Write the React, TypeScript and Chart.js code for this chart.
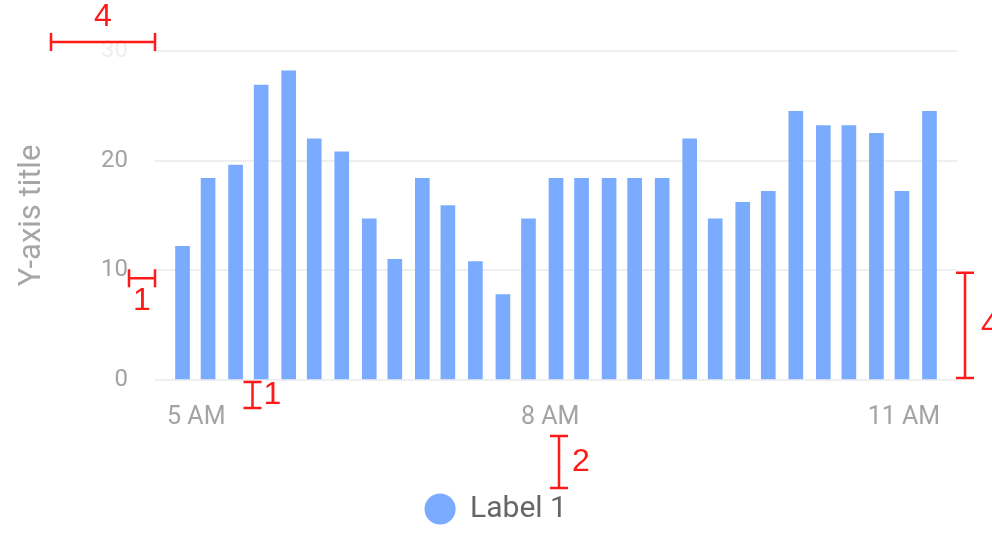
import React, { useEffect, useRef } from "react";
import { Chart, registerables } from "chart.js";

Chart.register(...registerables);

// Bar times, in minutes after midnight
const barTimes = [293, 306, 320, 333, 347, 360, 374, 388, 401, 415, 428, 442, 456, 469, 483, 496, 510, 523, 537, 551, 564, 578, 591, 605, 619, 632, 646, 659, 673];
const barValues = [12.2, 18.4, 19.6, 26.9, 28.2, 22.0, 20.8, 14.7, 11.0, 18.4, 15.9, 10.8, 7.8, 14.7, 18.4, 18.4, 18.4, 18.4, 18.4, 22.0, 14.7, 16.2, 17.2, 24.5, 23.2, 23.2, 22.5, 17.2, 24.5];
const xTickMinutes = [300, 480, 660];
const xTickLabels = ["5 AM", "8 AM", "11 AM"];
const yTickValues = [0, 10, 20, 30];
const seriesLabel = "Label 1";
const yAxisTitle = "Y-axis title";

const UNIT = 26;
const RED = "#ff1a1a";

function hBracket(ctx: CanvasRenderingContext2D, x1: number, x2: number, y: number) {
  ctx.beginPath();
  ctx.moveTo(x1, y);
  ctx.lineTo(x2, y);
  ctx.moveTo(x1, y - 9);
  ctx.lineTo(x1, y + 9);
  ctx.moveTo(x2, y - 9);
  ctx.lineTo(x2, y + 9);
  ctx.stroke();
}

function vBracket(ctx: CanvasRenderingContext2D, x: number, y1: number, y2: number) {
  ctx.beginPath();
  ctx.moveTo(x, y1);
  ctx.lineTo(x, y2);
  ctx.moveTo(x - 9, y1);
  ctx.lineTo(x + 9, y1);
  ctx.moveTo(x - 9, y2);
  ctx.lineTo(x + 9, y2);
  ctx.stroke();
}

const specMarks = {
  id: "specMarks",
  afterDraw(chart: any) {
    const { ctx, chartArea: ca, scales } = chart;
    const y = scales.y;
    ctx.save();
    ctx.strokeStyle = RED;
    ctx.fillStyle = RED;
    ctx.lineWidth = 2.5;
    ctx.font = '32px "Liberation Sans", Arial, sans-serif';
    ctx.textAlign = "center";
    ctx.textBaseline = "middle";

    // top: 4 units left of the plot
    const yTop = y.getPixelForValue(30) - 9;
    hBracket(ctx, ca.left - 4 * UNIT, ca.left, yTop);
    ctx.fillText("4", ca.left - 2 * UNIT, yTop - 25);

    // left: 1 unit between tick labels and plot
    const y10 = y.getPixelForValue(10) + 8;
    hBracket(ctx, ca.left - UNIT, ca.left, y10);
    ctx.fillText("1", ca.left - UNIT / 2, y10 + 23);

    // bottom: 1 unit under the axis
    const bx = ca.left + 3.75 * UNIT;
    vBracket(ctx, bx, ca.bottom + 2, ca.bottom + 2 + UNIT);
    ctx.fillText("1", bx + 20, ca.bottom + 2 + UNIT / 2);

    // between labels and legend: 2 units
    const mx = (ca.left + ca.right) / 2 + 3;
    const my = ca.bottom + 56;
    vBracket(ctx, mx, my, my + 2 * UNIT);
    ctx.fillText("2", mx + 22, my + UNIT);

    // right: 4 units high
    const rx = ca.right + 8;
    vBracket(ctx, rx, y.getPixelForValue(10) + 2.5, y.getPixelForValue(0) - 2);
    ctx.textAlign = "left";
    ctx.fillText("4", rx + 16, (y.getPixelForValue(10) + y.getPixelForValue(0)) / 2 + 1);
    ctx.restore();
  },
};

export default function App() {
  const canvasRef = useRef<HTMLCanvasElement | null>(null);

  useEffect(() => {
    const canvas = canvasRef.current;
    if (!canvas) return;
    Chart.defaults.font.family = "Roboto, 'Noto Sans', sans-serif";

    const chart = new Chart(canvas, {
      type: "bar",
      data: {
        datasets: [
          {
            label: seriesLabel,
            data: barTimes.map((t, i) => ({ x: t, y: barValues[i] })),
            backgroundColor: "#7aabff",
            borderWidth: 0,
            barThickness: 14,
            yAxisID: "y",
          },
        ],
      },
      options: {
        animation: false,
        responsive: false,
        layout: { padding: { left: 0, right: 0, top: 51, bottom: 0 } },
        plugins: {
          legend: {
            position: "bottom",
            labels: {
              usePointStyle: true,
              pointStyle: "circle",
              boxWidth: 30,
              boxHeight: 22,
              color: "#666666",
              font: { size: 30 },
              padding: 6,
            },
          },
          tooltip: { enabled: false },
        },
        scales: {
          x: {
            type: "linear",
            min: 279,
            max: 687,
            offset: false,
            grid: { display: false, offset: false },
            border: { display: false },
            afterBuildTicks: (scale: any) => {
              scale.ticks = xTickMinutes.map((v) => ({ value: v }));
            },
            afterFit: (scale: any) => {
              scale.height = 108;
            },
            ticks: {
              autoSkip: false,
              maxRotation: 0,
              color: "#a3a3a3",
              font: { size: 25 },
              padding: 15,
              callback: (v: any) => {
                const i = xTickMinutes.indexOf(Number(v));
                return i >= 0 ? xTickLabels[i] : "";
              },
            },
          },
          y: {
            min: 0,
            max: 30,
            afterBuildTicks: (scale: any) => {
              scale.ticks = yTickValues.map((v) => ({ value: v }));
            },
            afterFit: (scale: any) => {
              scale.width = 155;
            },
            grid: { color: "#efefef", lineWidth: 2, drawTicks: false },
            border: { display: false },
            ticks: {
              padding: 27,
              font: { size: 24 },
              color: (c: any) => (c.tick && c.tick.value === 30 ? "#eeeeee" : "#a3a3a3"),
            },
            title: {
              display: true,
              text: yAxisTitle,
              color: "#a6a6a6",
              font: { size: 31 },
              padding: { top: 14, bottom: 0 },
            },
          },
          yRight: {
            position: "right",
            min: 0,
            max: 1,
            grid: { display: false },
            border: { display: false },
            ticks: { display: false },
            afterFit: (scale: any) => {
              scale.width = 35;
            },
          },
        },
      },
      plugins: [specMarks],
    } as any);

    return () => chart.destroy();
  }, []);

  return (
    <div style={{ position: "fixed", left: 0, top: 0, width: 992, height: 534, background: "#fff" }}>
      <canvas ref={canvasRef} width={992} height={534} />
    </div>
  );
}
